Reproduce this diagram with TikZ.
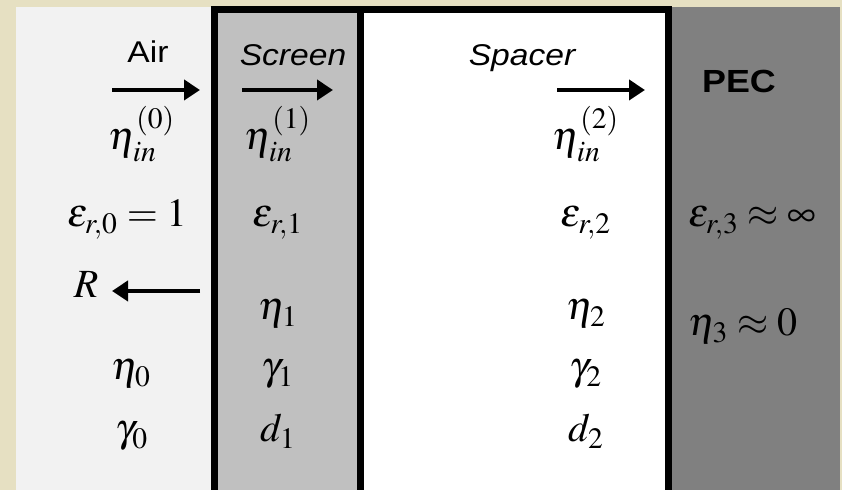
\documentclass[tikz,border=0pt]{standalone}
\usepackage{mathptmx}
\usepackage[no-math]{fontspec}
\newfontfamily\lblfont{Liberation Sans}[FakeStretch=1.12]
\usetikzlibrary{arrows.meta,positioning}
\definecolor{PaperBeige}{HTML}{E6E0C2}
\definecolor{AirGray}{HTML}{F2F2F2}
\definecolor{ScreenGray}{HTML}{C0C0C0}
\definecolor{PecGray}{HTML}{808080}

\begin{document}
\begin{tikzpicture}[
  x=0.5pt, y=-0.5pt,
  lbl/.style  = {font=\lblfont\fontsize{15}{18}\selectfont, anchor=base, inner sep=0pt},
  pec/.style  = {font=\lblfont\bfseries\fontsize{16}{19}\selectfont, anchor=base, inner sep=0pt},
  sym/.style  = {font=\fontsize{20}{24}\selectfont, anchor=base, inner sep=0pt},
  wave/.style = {-{Triangle[length=8pt,width=10pt]}, line width=2pt},
  wall/.style = {line width=3.5pt, line cap=rect}
]
\fill[PaperBeige] (0,0) rectangle (842,490);
\useasboundingbox (0,0) rectangle (842,490);

%% ---- the four layers, air | screen | spacer | PEC ---------------------
\fill[AirGray]    (16,7)  rectangle (214,490);
\fill[ScreenGray] (214,7) rectangle (360,490);
\fill[white]      (360,7) rectangle (668,490);
\fill[PecGray]    (668,7) rectangle (840,490);
\draw[wall] (214,495) -- (214,10) -- (668,10) -- (668,495);
\draw[wall] (360,10) -- (360,495);

%% ---- headings ---------------------------------------------------------
\node[lbl] (air)    at (148,63) {Air};
\node[lbl] (screen) at (293,66) {\itshape Screen};
\node[lbl] (spacer) at (522,66) {\itshape Spacer};
\node[pec] (pecl)   at (739,93) {PEC};

%% ---- incident waves and the reflected one -----------------------------
\coordinate (in0a) at (112,90);  \coordinate (in0b) at (200,90);
\coordinate (in1a) at (242,90);  \coordinate (in1b) at (333,90);
\coordinate (in2a) at (557,90);  \coordinate (in2b) at (645,90);
\coordinate (refa) at (200,291); \coordinate (refb) at (112,291);
\draw[wave] (in0a) -- (in0b);
\draw[wave] (in1a) -- (in1b);
\draw[wave] (in2a) -- (in2b);
\draw[wave] (refa) -- (refb);
\node[sym] (R) at (86,298) {$R$};

%% ---- input impedances -------------------------------------------------
\node[sym] (etain0) at (142,150) {$\eta_{in}^{(0)}$};
\node[sym] (etain1) at (278,150) {$\eta_{in}^{(1)}$};
\node[sym] (etain2) at (586,150) {$\eta_{in}^{(2)}$};

%% ---- permittivities ---------------------------------------------------
\node[sym, anchor=base west] (eps0) at (67,227)  {$\varepsilon_{r,0} = 1$};
\node[sym] (eps1) at (278,227) {$\varepsilon_{r,1}$};
\node[sym] (eps2) at (586,227) {$\varepsilon_{r,2}$};
\node[sym, anchor=base west] (eps3) at (688,227) {$\varepsilon_{r,3} \approx \infty$};

%% ---- impedances, propagation constants, thicknesses -------------------
\node[sym] (eta1) at (278,320) {$\eta_1$};
\node[sym] (eta2) at (586,320) {$\eta_2$};
\node[sym, anchor=base west] (eta3) at (688,336) {$\eta_3 \approx 0$};

\node[sym] (eta0) at (131,380) {$\eta_0$};
\node[sym] (gam1) at (278,380) {$\gamma_1$};
\node[sym] (gam2) at (586,380) {$\gamma_2$};

\node[sym] (gam0) at (132,442) {$\gamma_0$};
\node[sym] (d1)   at (278,442) {$d_1$};
\node[sym] (d2)   at (586,442) {$d_2$};

\end{tikzpicture}
\end{document}
